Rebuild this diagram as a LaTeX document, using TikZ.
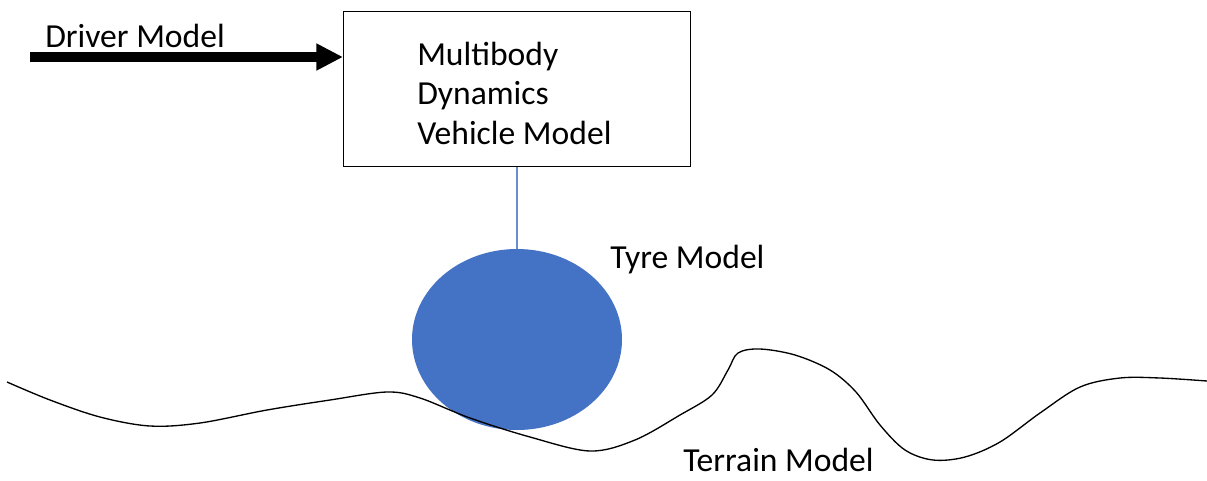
\documentclass[tikz,border=0pt]{standalone}
\usepackage{fontspec}
\setmainfont{Carlito}
\usetikzlibrary{arrows.meta,shapes.geometric}
\definecolor{tyreblue}{HTML}{4472C4}
\tikzset{
  lbl/.style={font=\fontsize{25.2}{40}\selectfont, inner sep=0pt, anchor=base west},
  vbox/.style={draw=black, line width=1pt, inner sep=0pt},
  bigarrow/.style={line width=6.8pt, -{Triangle[length=20pt,width=19pt]}},
}
\begin{document}
\begin{tikzpicture}[x=0.75pt,y=-0.75pt]
\useasboundingbox (0,0) rectangle (1207,480);
% vehicle box
\node[vbox, minimum width=347*0.75pt, minimum height=155*0.75pt, anchor=north west] (veh) at (343,11) {};
\node[lbl] (t1) at (417,65) {Multibody};
\node[lbl] (t2) at (417,104) {Dynamics};
\node[lbl] (t3) at (417,144) {Vehicle Model};
% driver arrow
\coordinate (dstart) at (30,57);
\node[lbl] (drv) at (45,47) {Driver Model};
\draw[bigarrow] (dstart) -- (veh.west |- dstart);
% tyre
\node[ellipse, fill=tyreblue, minimum width=210*0.75pt, minimum height=181*0.75pt, inner sep=0pt] (tyre) at (517,339.5) {};
\draw[tyreblue!80!white, line width=0.8pt] (veh.south -| tyre.north) -- (tyre.north);
\node[lbl] (tyrelbl) at (610,268) {Tyre Model};
% terrain
\draw[black, line width=1pt] plot[smooth, tension=0.55] coordinates {
 (7,382) (50,400) (100,417) (150,426) (200,423) (267,410) (330,400) (387,392)
 (420,398) (470,418) (530,437) (590,451) (635,440) (680,415) (712,395)
 (728,370) (738,353) (760,349) (795,355) (830,370) (856,392) (880,425) (905,450) (933,460)
 (965,457) (1000,442) (1040,413) (1080,387) (1120,378) (1160,378) (1207,381)};
\node[lbl] (terrlbl) at (683,471) {Terrain Model};
\end{tikzpicture}
\end{document}
